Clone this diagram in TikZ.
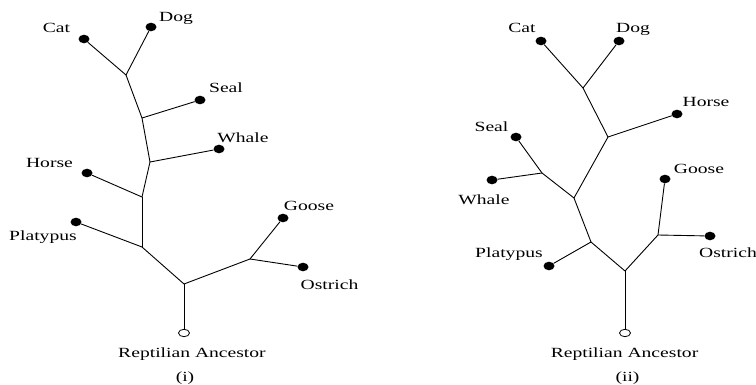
\documentclass[tikz,border=0pt]{standalone}
\usepackage{fontspec}
\usepackage{graphicx}
\setmainfont{Liberation Serif}
\usetikzlibrary{shapes.geometric}
% labels are set wide: stretch them horizontally
\newcommand\widetxt[1]{\scalebox{1.4}[1]{#1}}
\tikzset{
  leaf/.style={ellipse, fill=black, inner sep=0pt, minimum width=11pt, minimum height=8.6pt},
  ancestor/.style={ellipse, draw=black, line width=0.8pt, inner sep=0pt, minimum width=11pt, minimum height=7.4pt},
  taxon/.style={anchor=base, inner sep=0pt, font=\fontsize{14}{16}\selectfont},
  branch/.style={line width=0.9pt, black}
}
\begin{document}
\begin{tikzpicture}[x=1pt, y=-1pt]
\useasboundingbox (0,0) rectangle (756,385);

% ---------------- tree (i) ----------------
\coordinate (rootA) at (184,284);
\coordinate (birdA) at (250,259);
\coordinate (platA) at (142,247);
\coordinate (horsA) at (142,197);
\coordinate (whalA) at (150,162);
\coordinate (sealA) at (142,118);
\coordinate (catdA) at (126,75);

\node[leaf] (catA) at (84,39) {};
\node[leaf] (dogA) at (151,27) {};
\node[leaf] (sealdotA) at (200,100) {};
\node[leaf] (whaledotA) at (219,149) {};
\node[leaf] (horsedotA) at (87,173) {};
\node[leaf] (platdotA) at (76,222) {};
\node[leaf] (gooseA) at (283,218) {};
\node[leaf] (ostrA) at (303,267) {};
\node[ancestor] (ancA) at (184,333) {};

\draw[branch] (ancA) -- (rootA);
\draw[branch] (rootA) -- (birdA);
\draw[branch] (birdA) -- (gooseA);
\draw[branch] (birdA) -- (ostrA);
\draw[branch] (rootA) -- (platA);
\draw[branch] (platA) -- (platdotA);
\draw[branch] (platA) -- (horsA);
\draw[branch] (horsA) -- (horsedotA);
\draw[branch] (horsA) -- (whalA);
\draw[branch] (whalA) -- (whaledotA);
\draw[branch] (whalA) -- (sealA);
\draw[branch] (sealA) -- (sealdotA);
\draw[branch] (sealA) -- (catdA);
\draw[branch] (catdA) -- (catA);
\draw[branch] (catdA) -- (dogA);

\node[taxon] (tCatA) at (56.5,33) {\widetxt{Cat}};
\node[taxon] (tDogA) at (176,21.5) {\widetxt{Dog}};
\node[taxon] (tSealA) at (226,93) {\widetxt{Seal}};
\node[taxon] (tWhaleA) at (243,143) {\widetxt{Whale}};
\node[taxon] (tHorseA) at (49.5,168) {\widetxt{Horse}};
\node[taxon] (tPlatA) at (43,241) {\widetxt{Platypus}};
\node[taxon] (tGooseA) at (309,211) {\widetxt{Goose}};
\node[taxon] (tOstrA) at (329.5,290) {\widetxt{Ostrich}};
\node[taxon] (tAncA) at (192,357) {\widetxt{Reptilian Ancestor}};
\node[taxon] (capA) at (185,381) {\widetxt{(i)}};

% ---------------- tree (ii) ----------------
\coordinate (rootB) at (625,271);
\coordinate (birdB) at (658,235);
\coordinate (platB) at (591,242);
\coordinate (marB) at (574,198);
\coordinate (swB) at (542,173);
\coordinate (horsB) at (608,137);
\coordinate (catdB) at (583,88);

\node[leaf] (catB) at (541,41) {};
\node[leaf] (dogB) at (619,41) {};
\node[leaf] (horsedotB) at (677,114) {};
\node[leaf] (sealdotB) at (516,137) {};
\node[leaf] (whaledotB) at (492,180) {};
\node[leaf] (platdotB) at (549,266) {};
\node[leaf] (gooseB) at (665,179) {};
\node[leaf] (ostrB) at (710,236) {};
\node[ancestor] (ancB) at (625,333) {};

\draw[branch] (ancB) -- (rootB);
\draw[branch] (rootB) -- (birdB);
\draw[branch] (birdB) -- (gooseB);
\draw[branch] (birdB) -- (ostrB);
\draw[branch] (rootB) -- (platB);
\draw[branch] (platB) -- (platdotB);
\draw[branch] (platB) -- (marB);
\draw[branch] (marB) -- (swB);
\draw[branch] (swB) -- (sealdotB);
\draw[branch] (swB) -- (whaledotB);
\draw[branch] (marB) -- (horsB);
\draw[branch] (horsB) -- (horsedotB);
\draw[branch] (horsB) -- (catdB);
\draw[branch] (catdB) -- (catB);
\draw[branch] (catdB) -- (dogB);

\node[taxon] (tCatB) at (522,33) {\widetxt{Cat}};
\node[taxon] (tDogB) at (633,33) {\widetxt{Dog}};
\node[taxon] (tHorseB) at (706,107) {\widetxt{Horse}};
\node[taxon] (tSealB) at (491.5,132) {\widetxt{Seal}};
\node[taxon] (tGooseB) at (699,174) {\widetxt{Goose}};
\node[taxon] (tWhaleB) at (484,205) {\widetxt{Whale}};
\node[taxon] (tPlatB) at (509,258) {\widetxt{Platypus}};
\node[taxon, anchor=base west] (tOstrB) at (699,258) {\widetxt{Ostrich}};
\node[taxon] (tAncB) at (624.5,357) {\widetxt{Reptilian Ancestor}};
\node[taxon] (capB) at (627.5,381) {\widetxt{(ii)}};
\end{tikzpicture}
\end{document}
